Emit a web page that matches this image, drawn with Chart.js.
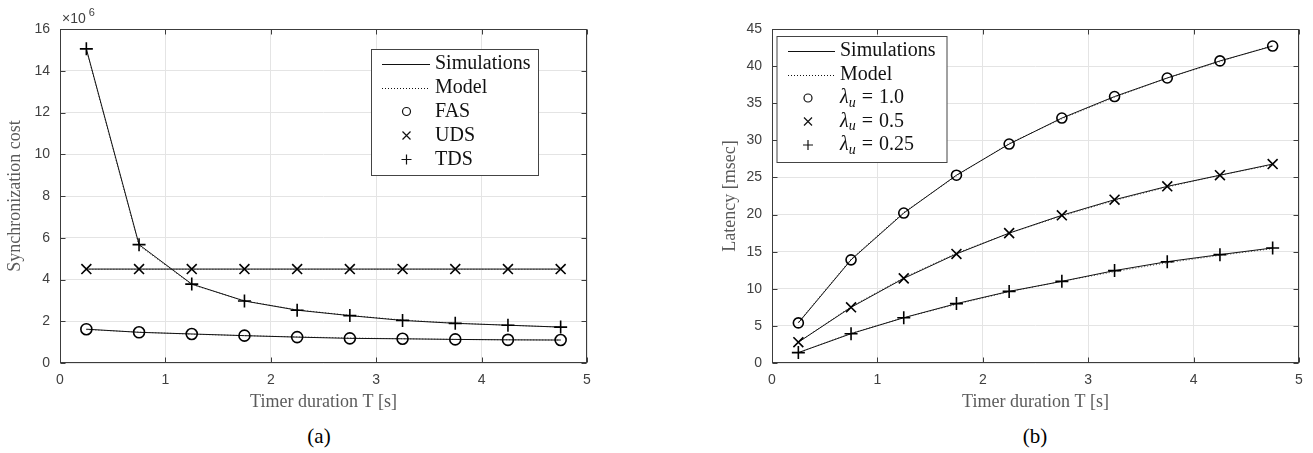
<!DOCTYPE html>
<html>
<head>
<meta charset="utf-8">
<script src="https://cdn.jsdelivr.net/npm/chart.js@4.4.1/dist/chart.umd.min.js"></script>
<style>
body{margin:0;background:#fff;}
#wrap{position:relative;width:1313px;height:453px;background:#fff;overflow:hidden;}
#boxA{position:absolute;left:0;top:0;width:620px;height:420px;}
#boxB{position:absolute;left:700px;top:0;width:613px;height:420px;}
.cap{position:absolute;top:425px;width:60px;margin-left:-30px;text-align:center;
     font-family:'Liberation Serif',serif;font-size:21px;line-height:22px;color:#000;}
</style>
</head>
<body>
<div id="wrap">
  <div id="boxA"><canvas id="chartA" width="620" height="420"></canvas></div>
  <div id="boxB"><canvas id="chartB" width="613" height="420"></canvas></div>
  <div class="cap" style="left:319px">(a)</div>
  <div class="cap" style="left:1035px">(b)</div>
</div>
<script>
// x values (timer duration T, seconds)
var timerT = [0.25, 0.75, 1.25, 1.75, 2.25, 2.75, 3.25, 3.75, 4.25, 4.75];
var xTicks = [0, 1, 2, 3, 4, 5];

// (a) synchronization cost, in units of 10^6
var fasSim   = [1.62, 1.47, 1.39, 1.31, 1.24, 1.18, 1.16, 1.13, 1.11, 1.10];
var fasModel = [1.60, 1.48, 1.38, 1.31, 1.25, 1.20, 1.16, 1.13, 1.11, 1.10];
var udsSim   = [4.50, 4.50, 4.50, 4.50, 4.50, 4.50, 4.50, 4.50, 4.50, 4.50];
var udsModel = [4.49, 4.49, 4.49, 4.49, 4.49, 4.49, 4.49, 4.49, 4.49, 4.49];
var tdsSim   = [15.05, 5.67, 3.78, 2.97, 2.53, 2.27, 2.04, 1.90, 1.81, 1.72];
var tdsModel = [15.00, 5.62, 3.76, 2.98, 2.55, 2.28, 2.06, 1.91, 1.81, 1.72];
var yTicksA  = [0, 2, 4, 6, 8, 10, 12, 14, 16];

// (b) latency in msec for lambda_u = 1.0 / 0.5 / 0.25
var lat10Sim    = [5.4, 13.9, 20.2, 25.3, 29.5, 33.0, 35.9, 38.4, 40.7, 42.7];
var lat10Model  = [5.5, 14.0, 20.3, 25.2, 29.6, 32.9, 35.8, 38.4, 40.6, 42.8];
var lat05Sim    = [2.8, 7.5, 11.4, 14.7, 17.5, 19.9, 22.0, 23.8, 25.3, 26.8];
var lat05Model  = [2.8, 7.6, 11.5, 14.8, 17.5, 19.8, 21.9, 23.7, 25.3, 26.7];
var lat025Sim   = [1.4, 3.95, 6.1, 8.0, 9.65, 11.0, 12.45, 13.65, 14.6, 15.5];
var lat025Model = [1.4, 4.0, 6.1, 7.9, 9.6, 11.0, 12.3, 13.5, 14.5, 15.4];
var yTicksB     = [0, 5, 10, 15, 20, 25, 30, 35, 40, 45];

Chart.defaults.font.family = "'Liberation Sans', Arial, sans-serif";
Chart.defaults.font.size = 14;
Chart.defaults.color = '#404040';

var serif = "'Liberation Serif', 'Times New Roman', serif";

function pts(vals) {
    return timerT.map(function (t, i) { return {x: t, y: vals[i]}; });
}
function simSet(vals, style, r) {
    return {
        data: pts(vals),
        borderColor: '#111',
        borderWidth: 1,
        pointStyle: style,
        pointRadius: r,
        pointHoverRadius: r,
        pointBorderColor: '#000',
        pointBorderWidth: 1.6,
        pointBackgroundColor: 'rgba(0,0,0,0)',
        fill: false,
        tension: 0
    };
}
function modelSet(vals) {
    return {
        data: pts(vals),
        borderColor: '#555',
        borderWidth: 1,
        borderDash: [1, 2],
        pointRadius: 0,
        pointHoverRadius: 0,
        fill: false,
        tension: 0
    };
}

// small marker helper for the legend box
function mark(ctx, style, x, y, r) {
    ctx.beginPath();
    if (style == 'circle') {
        ctx.arc(x, y, r, 0, Math.PI * 2);
    } else if (style == 'cross') {
        ctx.moveTo(x - r, y); ctx.lineTo(x + r, y);
        ctx.moveTo(x, y - r); ctx.lineTo(x, y + r);
    } else {
        ctx.moveTo(x - r, y - r); ctx.lineTo(x + r, y + r);
        ctx.moveTo(x - r, y + r); ctx.lineTo(x + r, y - r);
    }
    ctx.stroke();
}

// box round the axes, inner tick marks, the x10^6 note and the legend
var decor = {
    id: 'decor',
    afterDraw: function (chart, args, o) {
        var ctx = chart.ctx, a = chart.chartArea;
        var xs = chart.scales.x, ys = chart.scales.y;
        var L = Math.round(a.left) + 0.5, R = Math.round(a.right) - 0.5;
        var T = Math.round(a.top) + 0.5, B = Math.round(a.bottom) - 0.5;
        ctx.save();
        ctx.strokeStyle = '#3c3c3c';
        ctx.lineWidth = 1;
        ctx.beginPath();
        xs.ticks.forEach(function (t) {
            var p = Math.round(xs.getPixelForValue(t.value)) + 0.5;
            ctx.moveTo(p, B); ctx.lineTo(p, B - 5);
            ctx.moveTo(p, T); ctx.lineTo(p, T + 5);
        });
        ys.ticks.forEach(function (t) {
            var p = Math.round(ys.getPixelForValue(t.value)) + 0.5;
            ctx.moveTo(L, p); ctx.lineTo(L + 5, p);
            ctx.moveTo(R, p); ctx.lineTo(R - 5, p);
        });
        ctx.stroke();
        ctx.strokeRect(L, T, R - L, B - T);

        if (o.exponent) {
            ctx.fillStyle = '#404040';
            ctx.textBaseline = 'middle';
            ctx.textAlign = 'left';
            ctx.font = "14px 'Liberation Sans', Arial, sans-serif";
            ctx.fillText('\u00d710', a.left + 2, 19);
            var w = ctx.measureText('\u00d710').width;
            ctx.font = "11px 'Liberation Sans', Arial, sans-serif";
            ctx.fillText('6', a.left + 2 + w + 3, 13);
        }

        var lg = o.legend;
        ctx.fillStyle = '#fff';
        ctx.fillRect(lg.x + 0.5, lg.y + 0.5, lg.w, lg.h);
        ctx.strokeStyle = '#444';
        ctx.strokeRect(lg.x + 0.5, lg.y + 0.5, lg.w, lg.h);
        lg.items.forEach(function (it, i) {
            var y = lg.row0 + i * lg.step;
            ctx.strokeStyle = '#111';
            ctx.lineWidth = 1;
            if (it.line) {
                ctx.setLineDash(it.dash);
                ctx.beginPath();
                ctx.moveTo(lg.l0, Math.round(y) + 0.5);
                ctx.lineTo(lg.l1, Math.round(y) + 0.5);
                ctx.stroke();
                ctx.setLineDash([]);
            } else {
                ctx.lineWidth = 1.2;
                mark(ctx, it.style, lg.mx, y, it.r);
            }
            ctx.fillStyle = '#111';
            ctx.textBaseline = 'middle';
            ctx.textAlign = 'left';
            if (it.lam) {
                var x = lg.tx;
                ctx.font = 'italic 20px ' + serif;
                ctx.fillText('\u03bb', x, y);
                x += ctx.measureText('\u03bb').width;
                ctx.font = 'italic 14px ' + serif;
                ctx.fillText('u', x, y + 5);
                x += ctx.measureText('u').width + 6;
                ctx.font = '20px ' + serif;
                ctx.fillText('=', x, y);
                x += ctx.measureText('=').width + 6;
                ctx.fillText(it.lam, x, y);
            } else {
                ctx.font = '20px ' + serif;
                ctx.fillText(it.label, lg.tx, y);
            }
        });
        ctx.restore();
    }
};

function makeChart(id, sets, yTicks, yMax, yTitle, lay, decorOpts) {
    return new Chart(document.getElementById(id), {
        type: 'line',
        data: {datasets: sets},
        plugins: [decor],
        options: {
            responsive: false,
            animation: false,
            devicePixelRatio: 1,
            layout: {padding: {left: 0, right: lay.right, top: 29, bottom: 0}},
            plugins: {legend: {display: false}, tooltip: {enabled: false}, decor: decorOpts},
            scales: {
                x: {
                    type: 'linear', min: 0, max: 5,
                    afterBuildTicks: function (s) { s.ticks = xTicks.map(function (v) { return {value: v}; }); },
                    afterFit: function (s) { s.height = 57; },
                    grid: {color: '#e4e4e4', drawTicks: false},
                    border: {display: false},
                    ticks: {padding: 9, color: '#404040'},
                    title: {display: true, text: 'Timer duration T [s]', color: '#5a5a5a',
                            font: {family: serif, size: 18}, padding: {top: 0, bottom: 7}}
                },
                y: {
                    type: 'linear', min: 0, max: yMax,
                    afterBuildTicks: function (s) { s.ticks = yTicks.map(function (v) { return {value: v}; }); },
                    afterFit: function (s) { s.width = lay.yw; },
                    grid: {color: '#e4e4e4', drawTicks: false},
                    border: {display: false},
                    ticks: {padding: 10, color: '#404040'},
                    title: {display: true, text: yTitle, color: '#5a5a5a',
                            font: {family: serif, size: 18}, padding: {top: lay.tp, bottom: 0}}
                }
            }
        }
    });
}

makeChart('chartA', [
    simSet(fasSim, 'circle', 5.5), modelSet(fasModel),
    simSet(udsSim, 'crossRot', 7), modelSet(udsModel),
    simSet(tdsSim, 'cross', 6.5), modelSet(tdsModel)
], yTicksA, 16, 'Synchronization cost', {right: 33, yw: 60, tp: 4}, {
    exponent: true,
    legend: {
        x: 371, y: 49, w: 167, h: 126, row0: 63.5, step: 24, l0: 382, l1: 430, mx: 406.5, tx: 435,
        items: [
            {line: true, dash: [], label: 'Simulations'},
            {line: true, dash: [1, 2], label: 'Model'},
            {style: 'circle', r: 4, label: 'FAS'},
            {style: 'x', r: 4, label: 'UDS'},
            {style: 'cross', r: 5, label: 'TDS'}
        ]
    }
});

makeChart('chartB', [
    simSet(lat10Sim, 'circle', 5), modelSet(lat10Model),
    simSet(lat05Sim, 'crossRot', 7), modelSet(lat05Model),
    simSet(lat025Sim, 'cross', 6.5), modelSet(lat025Model)
], yTicksB, 45, 'Latency [msec]', {right: 14, yw: 72, tp: 19}, {
    exponent: false,
    legend: {
        x: 76.5, y: 36, w: 170, h: 126, row0: 51, step: 23.5, l0: 88, l1: 135, mx: 108, tx: 140,
        items: [
            {line: true, dash: [], label: 'Simulations'},
            {line: true, dash: [1, 2], label: 'Model'},
            {style: 'circle', r: 4, lam: '1.0'},
            {style: 'x', r: 4, lam: '0.5'},
            {style: 'cross', r: 5, lam: '0.25'}
        ]
    }
});
</script>
</body>
</html>
